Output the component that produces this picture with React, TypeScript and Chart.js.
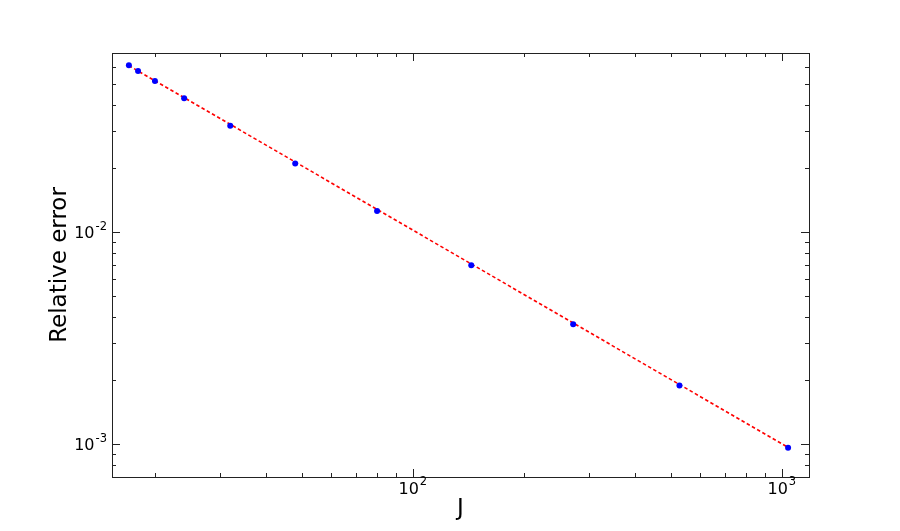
import React, { useEffect, useRef } from "react";
import { Chart, registerables } from "chart.js";

Chart.register(...registerables);

// Data
const J = [17, 18, 20, 24, 32, 48, 80, 144, 272, 528, 1040];
const relErr = [0.0612, 0.0575, 0.0516, 0.0428, 0.0318, 0.0211, 0.0126, 0.00698, 0.00368, 0.00189, 0.000961];
// Fitted line end points
const fitJ = [17, 1040];
const fitErr = [0.0610, 0.000965];

// Axes
const xRange = [15.3, 1185];
const yRange = [0.0007, 0.07];
const xMajorValues = [100, 1000];
const xMajorExps = ["2", "3"];
const yMajorValues = [0.001, 0.01];
const yMajorExps = ["-3", "-2"];
const tickBase = "10";
const xTitle = "J";
const yTitle = "Relative error";

const FONT = "'DejaVu Sans', sans-serif";
const BASE_SIZE = 16;
const EXP_SIZE = 11.5;
const EXP_RAISE = 8.5;

function logTicks(min: number, max: number) {
  const out: number[] = [];
  for (let e = Math.floor(Math.log10(min)); e <= Math.ceil(Math.log10(max)); e++) {
    for (let m = 1; m <= 9; m++) {
      const v = parseFloat((m * Math.pow(10, e)).toPrecision(6));
      if (v >= min && v <= max) out.push(v);
    }
  }
  return out;
}

function isMajor(v: number) {
  const l = Math.log10(v);
  return Math.abs(l - Math.round(l)) < 1e-9;
}

function drawPowerLabel(ctx: any, exp: string, x: number, baseline: number, align: "center" | "right") {
  ctx.font = `${BASE_SIZE}px ${FONT}`;
  const wb = ctx.measureText(tickBase).width;
  ctx.font = `${EXP_SIZE}px ${FONT}`;
  const we = ctx.measureText(exp).width;
  const total = wb + 1 + we;
  const left = align === "center" ? x - total / 2 : x - total;
  ctx.textAlign = "left";
  ctx.textBaseline = "alphabetic";
  ctx.font = `${BASE_SIZE}px ${FONT}`;
  ctx.fillText(tickBase, left, baseline);
  ctx.font = `${EXP_SIZE}px ${FONT}`;
  ctx.fillText(exp, left + wb + 1, baseline - EXP_RAISE);
}

const framePlugin = {
  id: "frameTicks",
  afterDraw(chart: any) {
    const { ctx, chartArea: a, scales } = chart;
    ctx.save();
    ctx.strokeStyle = "#222";
    ctx.lineWidth = 1;
    ctx.strokeRect(Math.round(a.left) + 0.5, Math.round(a.top) + 0.5, Math.round(a.right - a.left), Math.round(a.bottom - a.top));
    ctx.beginPath();
    for (const t of scales.x.ticks) {
      const px = Math.round(scales.x.getPixelForValue(t.value)) + 0.5;
      if (px <= a.left + 1 || px >= a.right - 1) continue;
      const len = isMajor(t.value) ? 8 : 4;
      ctx.moveTo(px, a.bottom);
      ctx.lineTo(px, a.bottom - len);
      ctx.moveTo(px, a.top);
      ctx.lineTo(px, a.top + len);
    }
    for (const t of scales.y.ticks) {
      const py = Math.round(scales.y.getPixelForValue(t.value)) + 0.5;
      if (py <= a.top + 1 || py >= a.bottom - 1) continue;
      const len = isMajor(t.value) ? 8 : 4;
      ctx.moveTo(a.left, py);
      ctx.lineTo(a.left + len, py);
      ctx.moveTo(a.right, py);
      ctx.lineTo(a.right - len, py);
    }
    ctx.stroke();

    // tick labels (10 with superscript exponent)
    ctx.fillStyle = "#000";
    xMajorValues.forEach((v, i) => {
      const px = scales.x.getPixelForValue(v);
      drawPowerLabel(ctx, xMajorExps[i], px, a.bottom + 16.5, "center");
    });
    yMajorValues.forEach((v, i) => {
      const py = scales.y.getPixelForValue(v);
      drawPowerLabel(ctx, yMajorExps[i], a.left - 5, py + 6, "right");
    });
    ctx.restore();
  },
};

export default function App() {
  const ref = useRef<HTMLCanvasElement | null>(null);

  useEffect(() => {
    if (!ref.current) return;
    const chart = new Chart(ref.current, {
      type: "scatter",
      data: {
        datasets: [
          {
            label: "error",
            data: J.map((x, i) => ({ x, y: relErr[i] })),
            backgroundColor: "#0000ff",
            borderColor: "#0000ff",
            borderWidth: 0,
            pointRadius: 3,
            showLine: false,
          },
          {
            label: "fit",
            data: fitJ.map((x, i) => ({ x, y: fitErr[i] })),
            borderColor: "#ff0000",
            borderWidth: 1.6,
            borderDash: [3.5, 2.5],
            pointRadius: 0,
            showLine: true,
            fill: false,
          },
        ],
      },
      options: {
        animation: false,
        responsive: false,
        maintainAspectRatio: false,
        layout: { padding: { top: 53, right: 91, left: 0, bottom: 0 } },
        plugins: { legend: { display: false }, tooltip: { enabled: false } },
        scales: {
          x: {
            type: "logarithmic",
            min: xRange[0],
            max: xRange[1],
            grid: { display: false },
            border: { display: false },
            afterBuildTicks: (s: any) => {
              s.ticks = logTicks(xRange[0], xRange[1]).map((v) => ({ value: v }));
            },
            afterFit: (s: any) => {
              s.height = 54;
            },
            ticks: { display: false, autoSkip: false },
            title: {
              display: true,
              text: xTitle,
              color: "#000",
              font: { family: FONT, size: 23 },
              padding: { top: 0, bottom: 8 },
            },
          },
          y: {
            type: "logarithmic",
            min: yRange[0],
            max: yRange[1],
            grid: { display: false },
            border: { display: false },
            afterBuildTicks: (s: any) => {
              s.ticks = logTicks(yRange[0], yRange[1]).map((v) => ({ value: v }));
            },
            afterFit: (s: any) => {
              s.width = 112;
            },
            ticks: { display: false, autoSkip: false },
            title: {
              display: true,
              text: yTitle,
              color: "#000",
              font: { family: FONT, size: 23 },
              padding: { top: 46, bottom: 0 },
            },
          },
        },
      },
      plugins: [framePlugin],
    });
    return () => chart.destroy();
  }, []);

  return (
    <div style={{ position: "fixed", left: 0, top: 0, width: 900, height: 531, background: "#fff" }}>
      <canvas ref={ref} width={900} height={531} style={{ width: 900, height: 531 }} />
    </div>
  );
}
